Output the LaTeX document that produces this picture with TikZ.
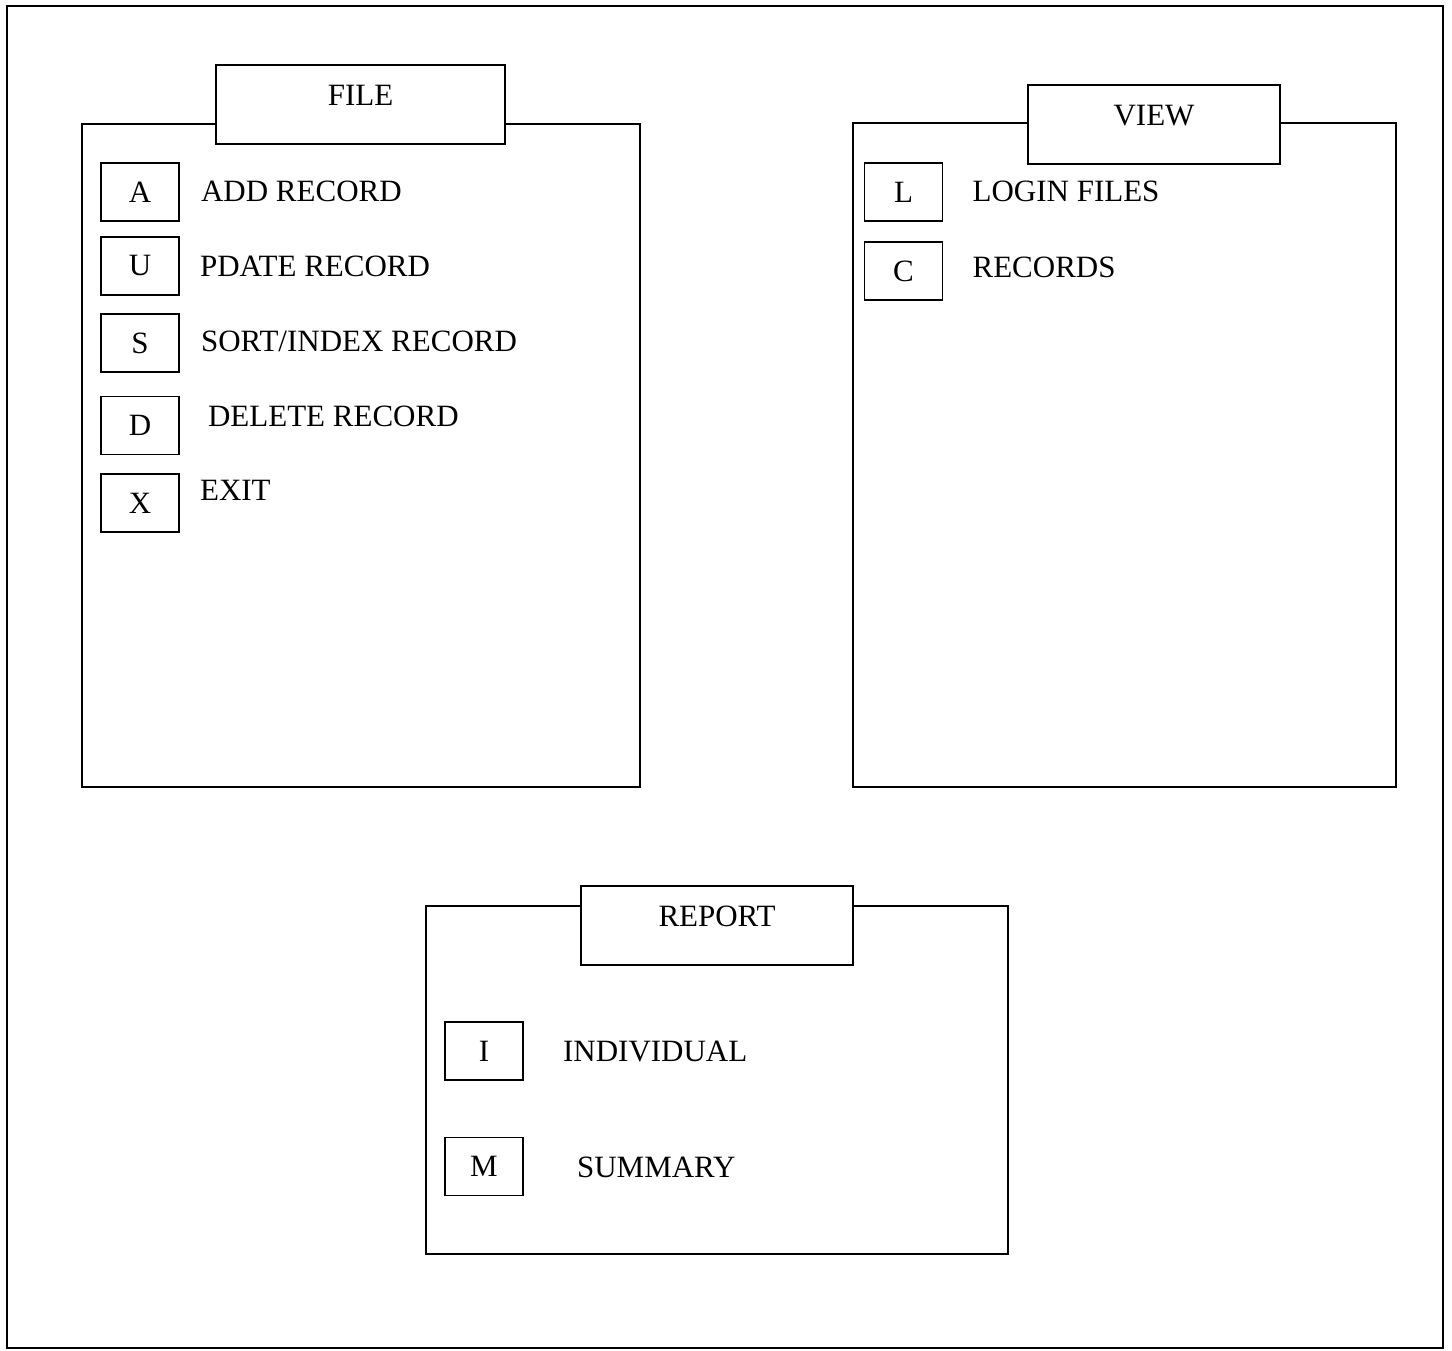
\documentclass[tikz,border=0pt]{standalone}
\usepackage{fontspec}
\setmainfont{Liberation Serif}
\usetikzlibrary{positioning}

\begin{document}
\begin{tikzpicture}[
  x=1pt,y=-1pt,
  every node/.style={font=\fontsize{31}{36}\selectfont},
  panel/.style={draw,line width=1.8pt,inner sep=0pt},
  tab/.style={draw,line width=1.8pt,fill=white,inner sep=0pt,minimum height=79pt,anchor=north},
  title/.style={inner sep=0pt,text height=21pt,text depth=0pt,anchor=north},
  key/.style={draw,line width=1.8pt,minimum width=78pt,minimum height=58pt,inner sep=0pt},
  item/.style={inner sep=0pt,text height=21pt,text depth=0pt}
]
\useasboundingbox (0,0) rectangle (1452,1351);
\node[draw,line width=1.5pt,minimum width=1436pt,minimum height=1342pt,inner sep=0pt] (frame) at (725,677) {};

% FILE menu
\node[panel,minimum width=558pt,minimum height=663pt] (file) at (361,455.5) {};
\node[tab,minimum width=289pt] (filetab) at (360.5,64) {};
\node[title,below=20pt of filetab.north] (filett) {FILE};
\node[key] (akey) at (140,192) {A};
\node[key] (ukey) at (140,266) {U};
\node[key] (skey) at (140,343) {S};
\node[key] (dkey) at (140,425.5) {D};
\node[key] (xkey) at (140,503) {X};
\node[item,right=21pt of akey,yshift=1pt] (add) {ADD RECORD};
\node[item,right=20pt of ukey] (upd) {PDATE RECORD};
\node[item,right=21pt of skey,yshift=2pt] (sort) {SORT/INDEX RECORD};
\node[item,right=28pt of dkey,yshift=10pt] (del) {DELETE RECORD};
\node[item,right=20pt of xkey,yshift=13pt] (exit) {EXIT};

% VIEW menu
\node[panel,minimum width=543pt,minimum height=664pt] (view) at (1124.5,455) {};
\node[tab,minimum width=252pt] (viewtab) at (1154,84) {};
\node[title,below=20pt of viewtab.north] (viewtt) {VIEW};
\node[key] (lkey) at (903.5,192) {L};
\node[key] (ckey) at (903.5,271) {C};
\node[item,right=29pt of lkey,yshift=1pt] (login) {LOGIN FILES};
\node[item,right=29pt of ckey,yshift=4pt] (recs) {RECORDS};

% REPORT menu
\node[panel,minimum width=582pt,minimum height=348pt] (report) at (717,1080) {};
\node[tab,minimum width=272pt] (reptab) at (717,885) {};
\node[title,below=20pt of reptab.north] (reptt) {REPORT};
\node[key] (ikey) at (484,1051) {I};
\node[key] (mkey) at (484,1166.5) {M};
\node[item,right=39pt of ikey] (indiv) {INDIVIDUAL};
\node[item,right=53pt of mkey] (summ) {SUMMARY};
\end{tikzpicture}
\end{document}
